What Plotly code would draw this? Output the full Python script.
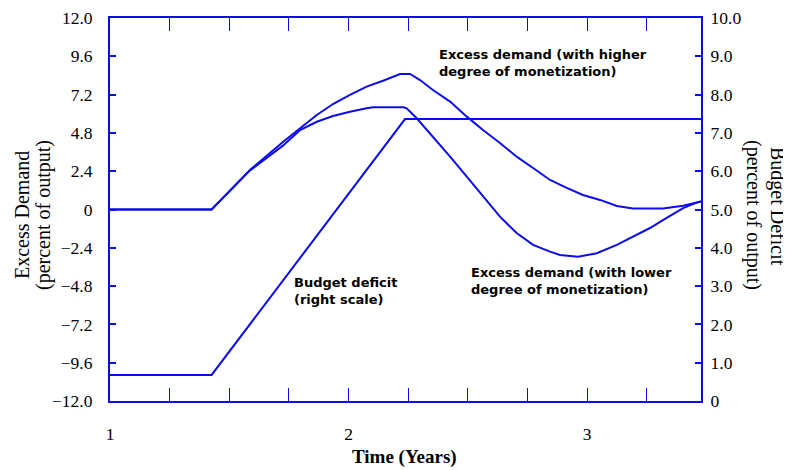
import plotly.graph_objects as go

# ---------------- data ----------------
years_higher = [1.0, 1.426, 1.587, 1.725, 1.867, 1.935, 2.006, 2.076, 2.145, 2.216, 2.258,
                2.30, 2.354, 2.426, 2.496, 2.564, 2.635, 2.705, 2.774, 2.845, 2.915, 2.983,
                3.055, 3.125, 3.193, 3.319, 3.403, 3.46, 3.478]
excess_higher = [0, 0, 2.48, 4.23, 5.92, 6.61, 7.18, 7.70, 8.07, 8.49, 8.49,
                 8.11, 7.49, 6.76, 5.82, 4.98, 4.17, 3.31, 2.60, 1.85, 1.35, 0.91,
                 0.60, 0.22, 0.06, 0.06, 0.24, 0.43, 0.50]

years_lower = [1.0, 1.426, 1.587, 1.725, 1.797, 1.867, 1.935, 2.006, 2.076, 2.103, 2.229,
               2.244, 2.286, 2.354, 2.426, 2.496, 2.564, 2.635, 2.705, 2.774, 2.845, 2.887,
               2.962, 3.041, 3.125, 3.193, 3.264, 3.334, 3.403, 3.46, 3.478]
excess_lower = [0, 0, 2.45, 4.0, 4.98, 5.50, 5.86, 6.13, 6.34, 6.40, 6.40,
                6.34, 5.72, 4.56, 3.31, 2.06, 0.80, -0.45, -1.47, -2.22, -2.64, -2.85,
                -2.96, -2.74, -2.22, -1.70, -1.16, -0.53, 0.09, 0.43, 0.50]

years_deficit = [1.0, 1.426, 2.237, 3.478]
budget_deficit = [0.68, 0.68, 7.36, 7.36]

left_ticks = [12.0, 9.6, 7.2, 4.8, 2.4, 0, -2.4, -4.8, -7.2, -9.6, -12.0]
left_tick_labels = ["12.0", "9.6", "7.2", "4.8", "2.4", "0", "\u22122.4", "\u22124.8",
                    "\u22127.2", "\u22129.6", "\u221212.0"]
right_ticks = [10, 9, 8, 7, 6, 5, 4, 3, 2, 1, 0]
right_tick_labels = ["10.0", "9.0", "8.0", "7.0", "6.0", "5.0", "4.0", "3.0", "2.0", "1.0", "0"]
x_ticks = [1.0, 1.25, 1.5, 1.75, 2.0, 2.25, 2.5, 2.75, 3.0, 3.25]
x_tick_labels = ["1", "", "", "", "2", "", "", "", "3", ""]

BLUE = "rgb(12,12,235)"
SERIF = "Liberation Serif"
SANS = "DejaVu Sans"

# the page has an 8px body margin; the figure is offset accordingly
FIG_W, FIG_H = 783, 462
ML, MR, MT, MB = 102, 90, 10, 69
PW = FIG_W - ML - MR   # 591
PH = FIG_H - MT - MB   # 383


def px(xp):   # page x pixel -> paper coordinate
    return (xp - 8 - ML) / PW


def py(yp):   # page y pixel -> paper coordinate
    return (FIG_H - MB - (yp - 8)) / PH


fig = go.Figure()
fig.add_trace(go.Scatter(x=years_higher, y=excess_higher, mode="lines",
                         line=dict(color=BLUE, width=2), name="higher", yaxis="y"))
fig.add_trace(go.Scatter(x=years_lower, y=excess_lower, mode="lines",
                         line=dict(color=BLUE, width=2), name="lower", yaxis="y"))
fig.add_trace(go.Scatter(x=years_deficit, y=budget_deficit, mode="lines",
                         line=dict(color=BLUE, width=2), name="deficit", yaxis="y2"))

fig.update_layout(
    width=FIG_W, height=FIG_H,
    margin=dict(l=ML, r=MR, t=MT, b=MB, autoexpand=False),
    plot_bgcolor="white", paper_bgcolor="white",
    showlegend=False,
    font=dict(family=SERIF, size=17, color="black"),
    xaxis=dict(range=[1.0, 3.478], tickmode="array", tickvals=x_ticks, ticktext=x_tick_labels,
               ticks="inside", ticklen=13, tickwidth=1, tickcolor=BLUE,
               showline=True, linecolor=BLUE, linewidth=2, mirror="ticks",
               showgrid=False, zeroline=False, ticklabelstandoff=16, automargin=False,
               tickfont=dict(family=SERIF, size=17.5)),
    yaxis=dict(range=[-12, 12], tickmode="array", tickvals=left_ticks, ticktext=left_tick_labels,
               ticks="inside", ticklen=6, tickwidth=2, tickcolor=BLUE,
               showline=True, linecolor=BLUE, linewidth=2, automargin=False,
               showgrid=False, zeroline=False, ticklabelstandoff=12,
               tickfont=dict(family=SERIF, size=17.5)),
    yaxis2=dict(range=[0, 10], overlaying="y", side="right", tickmode="array",
                tickvals=right_ticks, ticktext=right_tick_labels,
                ticks="inside", ticklen=6, tickwidth=2, tickcolor=BLUE,
                showline=True, linecolor=BLUE, linewidth=2, automargin=False,
                showgrid=False, zeroline=False, ticklabelstandoff=4,
                tickfont=dict(family=SERIF, size=17.5)),
)

ann_font = dict(family=SANS, size=13, color="black", weight="bold")
fig.add_annotation(x=2.371, y=10.3, xref="x", yref="y", xanchor="left", yanchor="top",
                   text="Excess demand (with higher<br>degree of monetization)",
                   showarrow=False, align="left", font=ann_font)
fig.add_annotation(x=1.763, y=-4.0, xref="x", yref="y", xanchor="left", yanchor="top",
                   text="Budget deficit<br>(right scale)",
                   showarrow=False, align="left", font=ann_font)
fig.add_annotation(x=2.505, y=-3.35, xref="x", yref="y", xanchor="left", yanchor="top",
                   text="Excess demand (with lower<br>degree of monetization)",
                   showarrow=False, align="left", font=ann_font)

# axis titles
title_font = dict(family=SERIF, size=20, color="black")
fig.add_annotation(x=px(22), y=py(215), xref="paper", yref="paper", text="Excess Demand",
                   showarrow=False, textangle=-90, xanchor="center", yanchor="middle",
                   font=title_font)
fig.add_annotation(x=px(43), y=py(215), xref="paper", yref="paper",
                   text="(percent of output)", showarrow=False, textangle=-90,
                   xanchor="center", yanchor="middle", font=title_font)
fig.add_annotation(x=px(778), y=py(206), xref="paper", yref="paper",
                   text="Budget Deficit", showarrow=False, textangle=90,
                   xanchor="center", yanchor="middle", font=title_font)
fig.add_annotation(x=px(754), y=py(215), xref="paper", yref="paper",
                   text="(percent of output)", showarrow=False, textangle=90,
                   xanchor="center", yanchor="middle", font=title_font)
fig.add_annotation(x=px(404), y=py(457), xref="paper", yref="paper",
                   text="<b>Time (Years)</b>", showarrow=False,
                   xanchor="center", yanchor="middle", font=dict(family=SERIF, size=19))

fig.write_html("out.html")
